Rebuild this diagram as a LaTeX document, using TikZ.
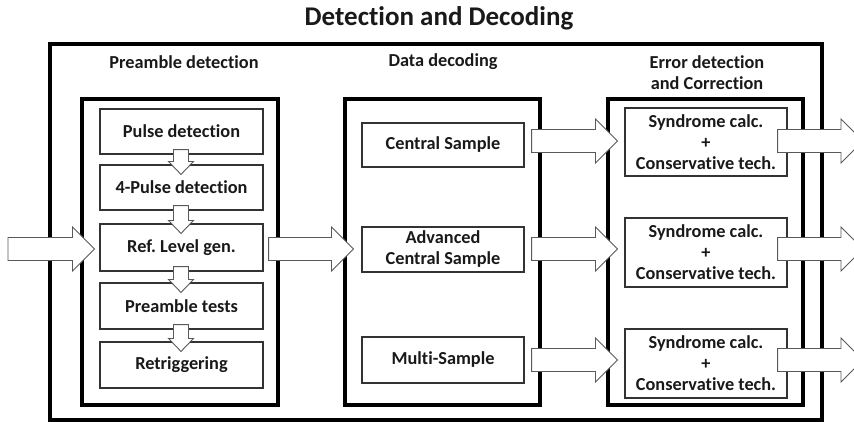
\documentclass[tikz,border=0pt]{standalone}
\usepackage{fontspec}
\setmainfont{Carlito}[Ligatures=NoCommon]
\usetikzlibrary{calc}
\frenchspacing
\tikzset{
  panel/.style={draw=black, line width=3.2pt},
  stepbox/.style={draw=black!80, line width=1.1pt, fill=white, align=center, inner sep=2pt,
     font=\fontsize{18.3}{21}\selectfont\bfseries, text=black!90},
  lbl/.style={align=center, font=\fontsize{18.3}{21}\selectfont\bfseries, text=black!90},
  barrow/.style={draw=black!65, line width=0.9pt, fill=white, line join=miter},
}
\newcommand{\harrow}[2]{%
  \draw[barrow] let \p1=(#1), \p2=(#2) in
    (\x1,\y1+11.5pt) -- (\x2-22pt,\y1+11.5pt) -- (\x2-22pt,\y1+22pt) -- (\x2,\y1)
    -- (\x2-22pt,\y1-22pt) -- (\x2-22pt,\y1-11.5pt) -- (\x1,\y1-11.5pt) -- cycle;}
\newcommand{\varrow}[2]{%
  \draw[barrow] let \p1=(#1), \p2=(#2) in
    (\x1-7.5pt,\y1) -- (\x1-7.5pt,\y2+13pt) -- (\x1-12.5pt,\y2+13pt) -- (\x1,\y2)
    -- (\x1+12.5pt,\y2+13pt) -- (\x1+7.5pt,\y2+13pt) -- (\x1+7.5pt,\y1) -- cycle;}
\begin{document}
\begin{tikzpicture}[x=1pt,y=-1pt]
\useasboundingbox (0,0) rectangle (854,421);
\clip (0,0) rectangle (854,421);
% title
\node[lbl, font=\fontsize{27}{30}\selectfont\bfseries] (title) at (439,18) {Detection and Decoding};
% outer box
\node[panel, minimum width=772pt, minimum height=376pt, inner sep=0pt] (outer) at (436,232) {};
% panels
\node[panel, minimum width=196pt, minimum height=306pt, inner sep=0pt] (p1) at (180,252) {};
\node[panel, minimum width=195pt, minimum height=306pt, inner sep=0pt] (p2) at (442.5,252) {};
\node[panel, minimum width=195pt, minimum height=306pt, inner sep=0pt] (p3) at (705.5,252) {};
% panel labels
\node[lbl] (l1) at (184,62) {Preamble detection};
\node[lbl] (l2) at (443,62) {Data decoding};
\node[lbl] (l3) at (707,72.5) {Error detection\\and Correction};
% preamble boxes
\node[stepbox, minimum width=163pt, minimum height=45pt] (pulse) at (181.5,131.5) {Pulse detection};
\node[stepbox, minimum width=163pt, minimum height=45pt] (four) at (181.5,187.5) {4-Pulse detection};
\node[stepbox, minimum width=163pt, minimum height=47pt] (ref) at (181.5,247.5) {Ref. Level gen.};
\node[stepbox, minimum width=163pt, minimum height=46pt] (tests) at (181.5,306) {Preamble tests};
\node[stepbox, minimum width=163pt, minimum height=46pt] (retrig) at (181.5,365) {Retriggering};
% decoding boxes
\node[stepbox, minimum width=162pt, minimum height=44pt] (central) at (443,145) {Central Sample};
\node[stepbox, minimum width=162pt, minimum height=45pt] (adv) at (443,249.5) {Advanced\\Central Sample};
\node[stepbox, minimum width=162pt, minimum height=46pt] (multi) at (443,360) {Multi-Sample};
% error correction boxes
\node[stepbox, minimum width=162pt, minimum height=68pt] (s1) at (706,142) {Syndrome calc.\\+\\Conservative tech.};
\node[stepbox, minimum width=162pt, minimum height=69pt] (s2) at (706,252.5) {Syndrome calc.\\+\\Conservative tech.};
\node[stepbox, minimum width=162pt, minimum height=69pt] (s3) at (706,363.5) {Syndrome calc.\\+\\Conservative tech.};
% coordinates for free ends
\coordinate (in) at (8,249);
\coordinate (o1) at (863,141);
\coordinate (o2) at (863,249);
\coordinate (o3) at (863,360);
% vertical arrows
\varrow{$(pulse.south)+(-0.5,-5)$}{$(four.north)+(-0.5,10)$}
\varrow{$(four.south)+(-0.5,-5)$}{$(ref.north)+(-0.5,10)$}
\varrow{$(ref.south)+(-0.5,-5)$}{$(tests.north)+(-0.5,10)$}
\varrow{$(tests.south)+(-0.5,-5)$}{$(retrig.north)+(-0.5,10)$}
% horizontal arrows
\harrow{in}{$(ref.west)+(-5,1.5)$}
\harrow{$(ref.east)+(5,1.5)$}{$(adv.west)+(-8,0)$}
\harrow{$(central.east)+(7,-4)$}{$(s1.west)+(-7,-1)$}
\harrow{$(adv.east)+(7,-0.5)$}{$(s2.west)+(-7,0)$}
\harrow{$(multi.east)+(7,0)$}{$(s3.west)+(-7,0)$}
\harrow{$(s1.east)+(-10,-1)$}{o1}
\harrow{$(s2.east)+(-10,-3.5)$}{o2}
\harrow{$(s3.east)+(-10,-3.5)$}{o3}
\end{tikzpicture}
\end{document}
